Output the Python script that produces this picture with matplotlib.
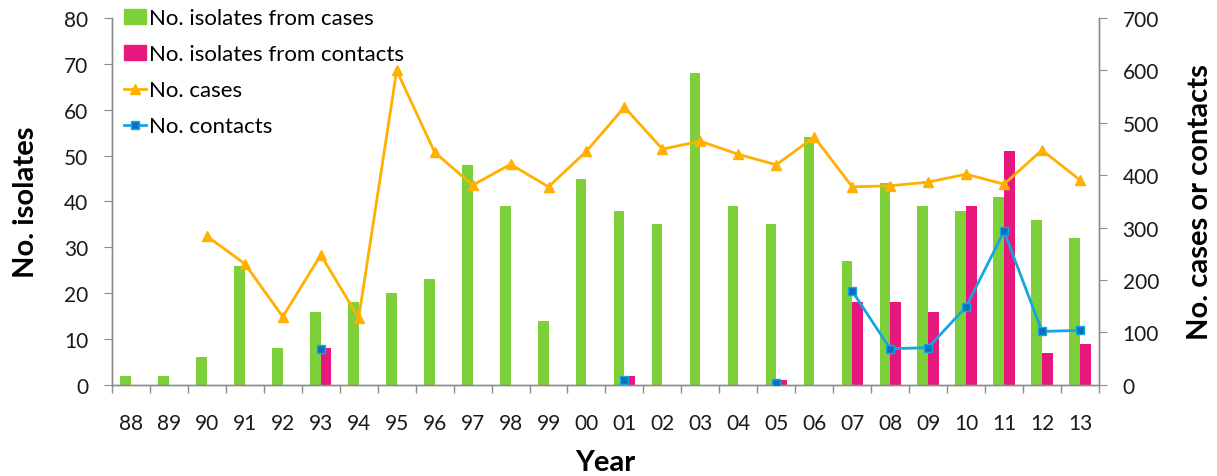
import matplotlib
matplotlib.use("Agg")
import matplotlib.pyplot as plt
import numpy as np
from matplotlib.lines import Line2D
from matplotlib.patches import Patch

years = ["88", "89", "90", "91", "92", "93", "94", "95", "96", "97", "98", "99", "00",
         "01", "02", "03", "04", "05", "06", "07", "08", "09", "10", "11", "12", "13"]
isolates_cases = [2, 2, 6, 26, 8, 16, 18, 20, 23, 48, 39, 14, 45,
                  38, 35, 68, 39, 35, 54, 27, 44, 39, 38, 41, 36, 32]
isolates_contacts = [0, 0, 0, 0, 0, 8, 0, 0, 0, 0, 0, 0, 0,
                     2, 0, 0, 0, 1, 0, 18, 18, 16, 39, 51, 7, 9]
n_cases = [np.nan, np.nan, 284, 231, 130, 248, 128, 600, 444, 381, 421, 378, 446,
           530, 450, 465, 440, 420, 473, 378, 380, 387, 402, 383, 448, 391]
n_contacts = [np.nan, np.nan, np.nan, np.nan, np.nan, 69, np.nan, np.nan, np.nan, np.nan,
              np.nan, np.nan, np.nan, 9, np.nan, np.nan, np.nan, 3, np.nan,
              179, 69, 71, 149, 293, 102, 104]

plt.rcParams['font.family'] = ['Lato', 'DejaVu Sans']

GREEN = '#7ED03B'
MAGENTA = '#E8177D'
ORANGE = '#FFB000'
BLUE_LINE = '#12A8DE'
BLUE_MK = '#0B6FC0'
GREY = '#8C8C8C'
TXT = '#1a1a1a'

fig = plt.figure(figsize=(12.17, 4.77), dpi=100)
ax = fig.add_axes([0.092, 0.191, 0.811, 0.769])
ax2 = ax.twinx()

x = np.arange(len(years))
w = 0.28
ax.bar(x - w / 2, isolates_cases, width=w, color=GREEN, zorder=2)
ax.bar(x + w / 2, isolates_contacts, width=w, color=MAGENTA, zorder=2)

ax2.plot(x, n_cases, color=ORANGE, lw=2, marker='^', ms=7, mfc=ORANGE, mec=ORANGE, zorder=3)
ax2.plot(x, n_contacts, color=BLUE_LINE, lw=2, marker='s', ms=6, mfc=BLUE_MK, mec=BLUE_LINE,
         mew=1, zorder=3)

ax.set_xlim(-0.5, len(years) - 0.5)
ax.set_ylim(0, 80)
ax2.set_ylim(0, 700)
ax.set_yticks(np.arange(0, 81, 10))
ax2.set_yticks(np.arange(0, 701, 100))

ax.set_xticks(x)
ax.set_xticklabels(years)
ax.set_xticks(np.arange(-0.5, len(years), 1), minor=True)
ax.tick_params(axis='x', which='major', length=0, pad=20, labelsize=15, colors=TXT)
ax.tick_params(axis='x', which='minor', length=6, color=GREY, width=1)
ax.tick_params(axis='y', length=6, color=GREY, labelsize=15, labelcolor=TXT, pad=11)
ax2.tick_params(axis='y', length=6, color=GREY, labelsize=15, labelcolor=TXT, pad=11)

for a in (ax, ax2):
    a.spines['top'].set_visible(False)
    for s in ('left', 'right', 'bottom'):
        a.spines[s].set_color(GREY)
        a.spines[s].set_linewidth(1)

ax.set_ylabel('No. isolates', fontsize=21, fontweight='bold', labelpad=18)
ax2.set_ylabel('No. cases or contacts', fontsize=21, fontweight='bold', labelpad=20)
ax.set_xlabel('Year', fontsize=21, fontweight='bold', labelpad=12)

handles = [
    Patch(color=GREEN, label='No. isolates from cases'),
    Patch(color=MAGENTA, label='No. isolates from contacts'),
    Line2D([], [], color=ORANGE, lw=2, marker='^', ms=7, label='No. cases'),
    Line2D([], [], color=BLUE_LINE, lw=2, marker='s', ms=6, mfc=BLUE_MK, mec=BLUE_LINE,
           label='No. contacts'),
]
ax2.legend(handles=handles, loc='upper left', bbox_to_anchor=(0.1, 0.985),
           bbox_transform=fig.transFigure, frameon=False, fontsize=16,
           handlelength=1.0, handleheight=0.7, handletextpad=0.15, labelspacing=0.72,
           borderaxespad=0, borderpad=0.1)

fig.savefig('out.png', dpi=100)
